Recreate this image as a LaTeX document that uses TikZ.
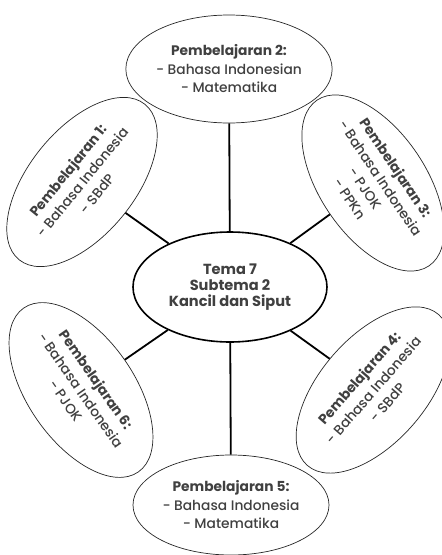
\documentclass[tikz,border=0pt]{standalone}
\usepackage{fontspec}
\setmainfont{Poppins}[UprightFont=* Medium,BoldFont=* Bold]
\usetikzlibrary{shapes.geometric}
\begin{document}
\begin{tikzpicture}[x=1pt,y=-1pt,
  sub/.style={ellipse,draw=black!85,line width=0.7pt,minimum width=196pt,minimum height=108pt,inner sep=0pt,align=center,font=\fontsize{13.8}{18.5}\selectfont,text=black!75},
  hub/.style={ellipse,draw=black,line width=1.6pt,minimum width=194pt,minimum height=110pt,inner sep=0pt,align=center,font=\bfseries\fontsize{14.6}{16.3}\selectfont,text=black!75},
  link/.style={line width=1.8pt,draw=black}]
\useasboundingbox (0,0) rectangle (442,555);
\node[hub] (c) at (230,287) {Tema 7\\Subtema 2\\Kancil dan Siput};
\node[sub] (p2) at (229,69) {\textbf{Pembelajaran 2:}\\- Bahasa Indonesian\\- Matematika};
\node[sub,minimum width=200pt,minimum height=106pt,rotate=51] (p1) at (82,182) {\textbf{Pembelajaran 1:}\\- Bahasa Indonesia\\- SBdP};
\node[sub,minimum width=200pt,minimum height=106pt,rotate=-56] (p3) at (373,183) {\textbf{Pembelajaran 3:}\\- Bahasa Indonesia\\- PJOK\\- PPKn};
\node[sub,minimum width=200pt,minimum height=106pt,rotate=49] (p4) at (373,390) {\textbf{Pembelajaran 4:}\\- Bahasa Indonesia\\- SBdP};
\node[sub,minimum height=100pt] (p5) at (231,505) {\textbf{Pembelajaran 5:}\\- Bahasa Indonesia\\- Matematika};
\node[sub,minimum width=200pt,minimum height=106pt,rotate=-55] (p6) at (81,390) {\textbf{Pembelajaran 6:}\\- Bahasa Indonesia\\- PJOK};
\draw[link] (c) -- (p1);
\draw[link] (c) -- (p2);
\draw[link] (c) -- (p3);
\draw[link] (c) -- (p4);
\draw[link] (c) -- (p5);
\draw[link] (c) -- (p6);
\end{tikzpicture}
\end{document}
